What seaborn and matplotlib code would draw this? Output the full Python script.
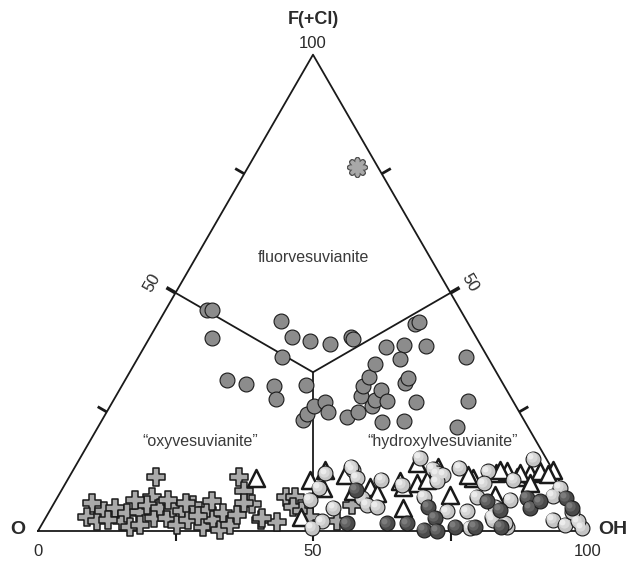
import numpy as np
import pandas as pd
import matplotlib
matplotlib.use("Agg")
import matplotlib.pyplot as plt
import matplotlib.transforms as mtransforms
import seaborn as sns

# ternary data, as (OH %, F %); O % = 100 - OH - F
# medium grey circles (F-rich cluster)
fluor_oh = [7.5, 8.3, 11.3, 22.1, 25.7, 29.5, 33.5, 36.6, 37.1, 26.0, 18.5, 22.4, 27.7, 29.4,
            33.3, 36.5, 36.6, 37.0, 38.6, 40.3, 44.1, 45.7, 44.5, 43.9, 43.9, 43.8, 47.5, 47.6,
            47.6, 49.8, 51.1, 44.0, 47.0, 47.7, 51.2, 51.2, 55.2, 55.1, 46.8, 47.4, 51.1, 59.5,
            64.5, 65.3]
fluor_f = [46.3, 46.5, 40.5, 44.0, 40.8, 39.9, 39.3, 40.7, 40.4, 36.6, 31.7, 30.8, 30.5, 27.7,
           30.7, 23.3, 24.6, 26.3, 27.0, 24.9, 24.0, 24.9, 28.4, 30.5, 32.4, 35.0, 26.3, 27.5,
           29.6, 27.2, 22.8, 38.6, 39.0, 36.2, 31.0, 32.1, 27.0, 23.0, 43.5, 43.9, 38.9, 36.6,
           27.2, 21.9]

# light grey spheres
light_oh = [46.2, 46.5, 46.2, 51.3, 50.6, 49.5, 50.9, 50.2, 52.4, 55.4, 57.0, 59.0, 61.8, 65.3,
            66.5, 67.8, 67.3, 70.0, 75.5, 76.0, 81.1, 82.5, 90.4, 89.9, 92.5, 95.2, 98.6, 97.2,
            57.1, 61.3, 66.5, 72.3, 75.9, 76.2, 81.0, 81.6, 84.8, 78.2, 82.6, 84.1, 80.6, 95.1]
light_f = [12.1, 9.0, 6.5, 4.8, 2.0, 0.6, 12.8, 13.5, 11.1, 6.9, 5.5, 5.1, 15.3, 13.0,
           12.1, 11.8, 10.4, 13.2, 12.5, 10.0, 10.7, 15.1, 9.0, 7.4, 2.3, 1.3, 0.6, 2.0,
           10.7, 9.7, 7.2, 4.1, 4.1, 7.2, 3.0, 2.3, 0.9, 0.6, 6.5, 1.6, 5.1, 4.0]

# dark grey spheres
dark_oh = [53.5, 55.3, 62.6, 66.2, 68.4, 70.8, 70.0, 72.5, 75.4, 79.0, 78.5, 81.8, 83.7, 85.4,
           87.1, 88.2, 92.5, 94.6]
dark_f = [8.6, 1.6, 1.6, 1.6, 5.1, 2.7, 0.2, 0.0, 0.9, 0.9, 6.2, 4.4, 0.9, 6.9,
          4.8, 6.2, 6.9, 4.8]

# open triangles
tri_oh = [34.0, 44.1, 45.8, 47.4, 49.9, 53.2, 55.7, 57.6, 46.4, 60.6, 63.9, 65.3, 71.1, 66.0,
          61.8, 73.6, 72.3, 77.3, 79.0, 81.3, 83.4, 85.0, 87.3, 86.7, 81.6, 77.6, 81.2, 79.3,
          64.0, 61.7, 84.5]
tri_f = [11.2, 10.7, 12.8, 9.0, 11.8, 8.3, 9.3, 7.9, 3.0, 10.4, 10.0, 10.7, 7.6, 13.5,
         14.2, 11.1, 11.8, 12.1, 12.5, 11.4, 12.1, 12.5, 12.8, 12.0, 12.1, 12.8, 3.7, 7.6,
         4.8, 9.3, 10.0]

# grey crosses
cross_oh = [15.8, 30.8, 33.3, 36.1, 34.5, 39.4, 42.5, 41.4, 43.1, 43.9, 45.9, 48.0, 53.3, 54.3,
            17.1, 6.9, 7.4, 9.8, 9.9, 11.6, 14.2, 14.3, 16.3, 16.5, 17.9, 17.1, 19.8, 19.8,
            22.1, 22.2, 24.7, 24.1, 26.2, 25.5, 29.6, 28.5, 28.5, 30.7, 33.0, 31.8, 34.3, 34.4,
            39.3, 11.6, 14.4, 20.4, 27.5, 24.0]
cross_f = [11.4, 11.4, 8.3, 5.7, 5.9, 2.3, 1.9, 7.2, 7.2, 5.1, 4.1, 3.0, 2.0, 5.5,
           7.2, 5.8, 3.0, 2.0, 4.1, 4.8, 2.0, 3.7, 0.9, 3.9, 1.3, 5.5, 2.7, 4.8,
           2.7, 4.8, 1.3, 4.1, 2.3, 5.5, 0.9, 4.4, 6.2, 2.3, 0.2, 3.7, 1.3, 3.4,
           2.7, 2.3, 6.5, 6.5, 3.2, 5.9]

# single asterisk
star_oh = [19.7]
star_f = [76.5]

H = np.sqrt(3) / 2


def to_xy(oh, f):
    oh = np.asarray(oh, dtype=float)
    f = np.asarray(f, dtype=float)
    return pd.DataFrame({'x': oh + f / 2, 'y': f * H})


def side_tick(ax, x, y, nx, ny, length=1.9, lw=2.0):
    ax.plot([x, x + nx * length], [y, y + ny * length], color='#1a1a1a', lw=lw,
            solid_capstyle='butt')


def spheres(ax, df, base, mid, hi, z):
    # shaded ball: body, then two lighter layers shifted up-left
    sns.scatterplot(data=df, x='x', y='y', marker='o', s=115, color=base,
                    edgecolor='#1a1a1a', linewidth=0.8, ax=ax, zorder=z)
    for col, size, dx in [(mid, 55, -1.2), (hi, 18, -2.0)]:
        off = mtransforms.offset_copy(ax.transData, fig=ax.figure, x=dx, y=-dx, units='points')
        ax.scatter(df['x'], df['y'], s=size, color=col, linewidths=0, transform=off,
                   zorder=z + 0.1)


sns.set_style("white")
plt.rcParams['font.family'] = ['Liberation Sans', 'DejaVu Sans']

fig = plt.figure(figsize=(6.3, 5.62), dpi=100)
ax = fig.add_axes([0, 0, 1, 1])
ax.set_xlim(-38 / 5.5, (630 - 38) / 5.5)
ax.set_ylim(-31 / 5.5, (562 - 31) / 5.5)
ax.axis('off')

line_c = '#1a1a1a'
# triangle outline
ax.plot([0, 100, 50, 0], [0, 0, 100 * H, 0], color=line_c, lw=1.3, zorder=1)

# field boundaries from the centre to the edge midpoints
cx, cy = 50, 100 / 3 * H
for ex, ey in [(25, 50 * H), (75, 50 * H), (50, 0)]:
    ax.plot([cx, ex], [cy, ey], color=line_c, lw=1.3, zorder=1)

# outward ticks
for t in [25, 50, 75]:
    side_tick(ax, t, 0, 0, -1, lw=1.5)
    side_tick(ax, t / 2, t * H, -H, 0.5, lw=2.0 if t != 50 else 2.6)
    side_tick(ax, 100 - t / 2, t * H, H, 0.5, lw=2.0 if t != 50 else 2.6)

# data
df_cross = to_xy(cross_oh, cross_f)
df_tri = to_xy(tri_oh, tri_f)
df_light = to_xy(light_oh, light_f)
df_dark = to_xy(dark_oh, dark_f)
df_fluor = to_xy(fluor_oh, fluor_f)
df_star = to_xy(star_oh, star_f)

sns.scatterplot(data=df_cross, x='x', y='y', marker='P', s=160, color='#a9a9a9',
                edgecolor='#1a1a1a', linewidth=1.1, ax=ax, zorder=3)
sns.scatterplot(data=df_tri, x='x', y='y', marker='^', s=150, color='white',
                edgecolor='#1a1a1a', linewidth=1.8, ax=ax, zorder=4)
spheres(ax, df_light, '#c4c4c4', '#d8d8d8', '#ececec', 5)
spheres(ax, df_dark, '#4a4a4a', '#626262', '#7c7c7c', 6)
sns.scatterplot(data=df_fluor, x='x', y='y', marker='o', s=115, color='#8c8c8c',
                edgecolor='#1a1a1a', linewidth=0.8, ax=ax, zorder=7)
sns.scatterplot(data=df_star, x='x', y='y', marker=(8, 2, 0), s=120, color='#555555',
                linewidth=4.2, ax=ax, zorder=7)
sns.scatterplot(data=df_star, x='x', y='y', marker=(8, 2, 0), s=110, color='#a8a8a8',
                linewidth=2.6, ax=ax, zorder=7.1)

txt_c = '#2a2a2a'
ax.text(50, (531 - 20) / 5.5, 'F(+Cl)', ha='center', va='center', fontsize=13,
        fontweight='bold', color=txt_c)
ax.text(50, (531 - 44) / 5.5, '100', ha='center', va='center', fontsize=12, color=txt_c)
ax.text(-3.6, 0.2, 'O', ha='center', va='center', fontsize=14, fontweight='bold', color=txt_c)
ax.text(104.6, 0.2, 'OH', ha='center', va='center', fontsize=14, fontweight='bold', color=txt_c)
for v in [0, 50, 100]:
    ax.text(v, -3.7, str(v), ha='center', va='center', fontsize=12, color=txt_c)
ax.text(20.7, 45.1, '50', ha='center', va='center', fontsize=12, rotation=60, color=txt_c)
ax.text(78.5, 45.1, '50', ha='center', va='center', fontsize=12, rotation=-60, color=txt_c)

lab_c = '#3a3a3a'
ax.text(50, 49.8, 'fluorvesuvianite', ha='center', va='center', fontsize=11.5, color=lab_c)
ax.text(29.5, 16.2, '\u201coxyvesuvianite\u201d', ha='center', va='center', fontsize=11.5,
        color=lab_c)
ax.text(73.6, 16.2, '\u201chydroxylvesuvianite\u201d', ha='center', va='center', fontsize=11.5,
        color=lab_c)

fig.savefig('out.png', dpi=100)
